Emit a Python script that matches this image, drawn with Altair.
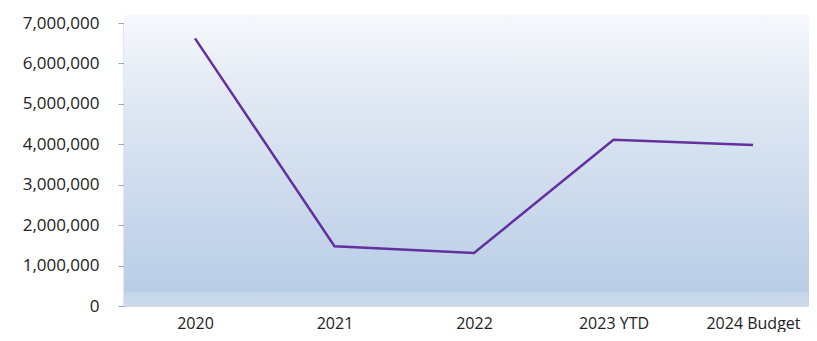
import altair as alt
import pandas as pd

categories = ["2020", "2021", "2022", "2023 YTD", "2024 Budget"]
values = [6620000, 1480000, 1310000, 4110000, 3980000]

df = pd.DataFrame({"cat": categories, "val": values})

W, H = 685, 283

bg = alt.Chart(pd.DataFrame({"a": [0]})).mark_rect(
    color=alt.Gradient(
        gradient="linear", x1=0, y1=0, x2=0, y2=1,
        stops=[
            alt.GradientStop(offset=0, color="#f6f8fc"),
            alt.GradientStop(offset=0.3, color="#e0e8f3"),
            alt.GradientStop(offset=0.95, color="#b9cde6"),
            alt.GradientStop(offset=0.955, color="#c6d6ea"),
            alt.GradientStop(offset=1, color="#cbd9eb"),
        ],
    )
).encode(x=alt.value(0), x2=alt.value(W), y=alt.value(-8), y2=alt.value(H))

FONT = "Open Sans"

line = alt.Chart(df).mark_line(color="#6430a0", strokeWidth=2.5).encode(
    x=alt.X("cat:N", sort=categories, title=None,
            scale=alt.Scale(type="point", range=[71, 629], padding=0),
            axis=alt.Axis(labelAngle=0, domain=False, ticks=False, labelPadding=9,
                          labelFont=FONT, labelFontSize=16, labelColor="#222222")),
    y=alt.Y("val:Q", title=None,
            scale=alt.Scale(domain=[0, 7000000], nice=False),
            axis=alt.Axis(values=[i * 1000000 for i in range(8)], format=",d", grid=False,
                          domainColor="#8a9ccc", domainWidth=1.5, tickColor="#9aa6c0",
                          tickSize=6, labelPadding=19,
                          labelFont=FONT, labelFontSize=17, labelColor="#222222")),
)

chart = alt.layer(bg, line).properties(
    width=W, height=H,
    autosize=alt.AutoSizeParams(type="none"),
    padding={"left": 116, "top": 15, "right": 0, "bottom": 26},
).configure_view(stroke=None).configure(background="white")

chart.save("out.html", embed_options={"renderer": "svg", "actions": False})
